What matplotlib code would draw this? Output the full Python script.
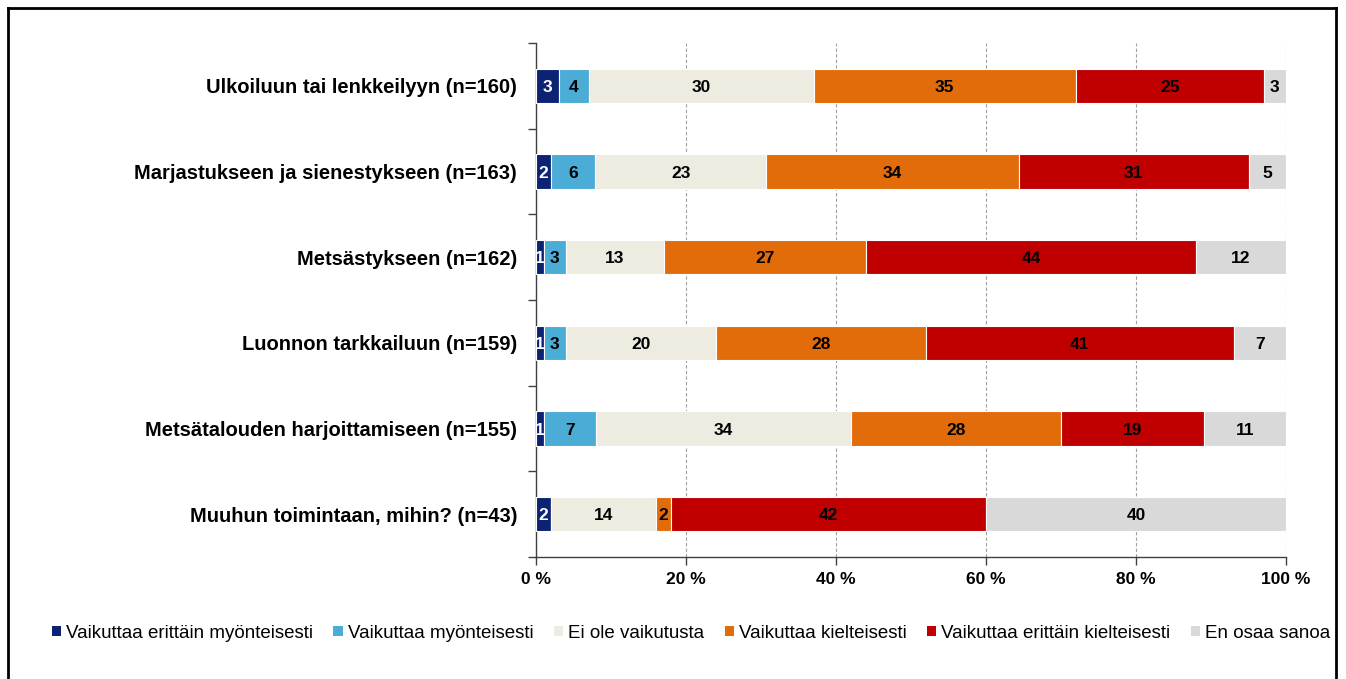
import numpy as np
import matplotlib
matplotlib.use("Agg")
import matplotlib.pyplot as plt
from matplotlib.patches import Patch
from matplotlib.lines import Line2D

plt.rcParams['font.family'] = ['Liberation Sans', 'DejaVu Sans']

categories = ["Ulkoiluun tai lenkkeilyyn (n=160)",
              "Marjastukseen ja sienestykseen (n=163)",
              "Metsästykseen (n=162)",
              "Luonnon tarkkailuun (n=159)",
              "Metsätalouden harjoittamiseen (n=155)",
              "Muuhun toimintaan, mihin? (n=43)"]

series = ["Vaikuttaa erittäin myönteisesti", "Vaikuttaa myönteisesti",
          "Ei ole vaikutusta", "Vaikuttaa kielteisesti",
          "Vaikuttaa erittäin kielteisesti", "En osaa sanoa"]

erittain_myont = [3, 2, 1, 1, 1, 2]
myont = [4, 6, 3, 3, 7, 0]
ei_vaik = [30, 23, 13, 20, 34, 14]
kielt = [35, 34, 27, 28, 28, 2]
erittain_kielt = [25, 31, 44, 41, 19, 42]
en_osaa = [3, 5, 12, 7, 11, 40]

colors = ["#0c2273", "#4bacd6", "#eeece1", "#e36c0a", "#c00000", "#d9d9d9"]
text_colors = ["white", "black", "black", "black", "black", "black"]

vals = np.array([erittain_myont, myont, ei_vaik, kielt, erittain_kielt, en_osaa], dtype=float)
# 100 % stacked -> normalise each row
pct = vals / vals.sum(axis=0) * 100

fig = plt.figure(figsize=(13.46, 6.79), dpi=100)
ax = fig.add_axes([536/1346, 1-557/679, 750/1346, 514/679])

y = np.arange(len(categories))
left = np.zeros(len(categories))
for i, name in enumerate(series):
    ax.barh(y, pct[i], left=left, height=0.40, color=colors[i],
            edgecolor="white", linewidth=0.8, label=name, zorder=3)
    for j in range(len(categories)):
        if vals[i, j] > 0:
            ax.text(left[j] + pct[i, j]/2, y[j] + 0.02, "%d" % vals[i, j],
                    ha="center", va="center", fontsize=12.5, fontweight="bold",
                    color=text_colors[i], zorder=4)
    left += pct[i]

ax.set_xlim(0, 100)
ax.set_ylim(len(categories) - 0.5, -0.5)
ax.set_xticks(range(0, 101, 20))
ax.set_xticklabels(["%d %%" % v for v in range(0, 101, 20)], fontsize=12.5, fontweight="bold")
ax.set_yticks(y)
ax.set_yticklabels(categories, fontsize=14.5, fontweight="bold")
ax.set_yticks(np.arange(-0.5, len(categories)), minor=True)
ax.tick_params(axis="y", which="major", length=0, pad=13.5)
ax.tick_params(axis="y", which="minor", length=6, width=1, color="#404040")
ax.tick_params(axis="x", length=6, width=1, color="#404040", pad=5)
ax.xaxis.grid(True, linestyle=(0, (3, 2)), color="#a0a0a0", linewidth=0.8, zorder=0)
for s in ["top", "right"]:
    ax.spines[s].set_visible(False)
for s in ["left", "bottom"]:
    ax.spines[s].set_color("#404040")
    ax.spines[s].set_linewidth(1)

handles = [Patch(facecolor=c, edgecolor="none") for c in colors]
fig.legend(handles, series, loc="center", bbox_to_anchor=(691/1346, 1-633/679), ncol=6,
           frameon=False, fontsize=13.5, handlelength=0.5, handleheight=0.5,
           handletextpad=0.25, columnspacing=1.1, borderaxespad=0)

# outer frame
fig.add_artist(Line2D([8/1346, 8/1346], [0, 1-8/679], color="black", lw=2))
fig.add_artist(Line2D([8/1346, 1336/1346], [1-8/679, 1-8/679], color="black", lw=2))
fig.add_artist(Line2D([1336/1346, 1336/1346], [0, 1-8/679], color="black", lw=2))

fig.savefig("out.png", dpi=100)
